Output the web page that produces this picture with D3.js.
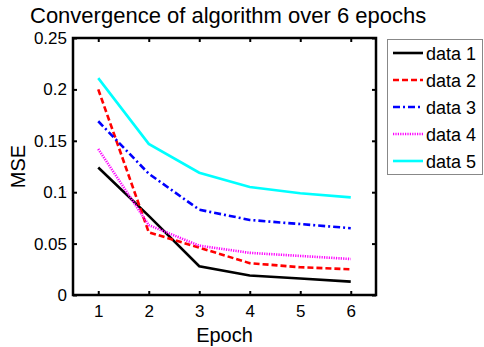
<!DOCTYPE html>
<html><head><meta charset="utf-8">
<script src="https://cdn.jsdelivr.net/npm/d3@7/dist/d3.min.js"></script>
<style>body{margin:0;background:#fff}svg{display:block;font-family:"Liberation Sans",Arial,sans-serif}</style>
</head><body><svg id="c" width="484" height="347"></svg>
<script>
const epochs = [1,2,3,4,5,6];
const seriesNames = ["data 1","data 2","data 3","data 4","data 5"];
const data1 = [0.124,0.077,0.028,0.019,0.016,0.013];
const data2 = [0.200,0.061,0.046,0.031,0.027,0.025];
const data3 = [0.169,0.118,0.083,0.073,0.069,0.065];
const data4 = [0.142,0.068,0.048,0.041,0.038,0.035];
const data5 = [0.211,0.147,0.119,0.105,0.099,0.095];
const yTicks = [0,0.05,0.1,0.15,0.2,0.25];
const yTickLabels = ["0","0.05","0.1","0.15","0.2","0.25"];
const colors = ["#000000","#ff0000","#0000ff","#ff00ff","#00ffff"];
const dashes = [null,"6,3","7,3,2,3","1.2,1.2",null];

const svg = d3.select("#c");
const L=73,R=376,T=38,B=295;
const x = d3.scaleLinear().domain([0.5,6.5]).range([L,R]);
const y = d3.scaleLinear().domain([0,0.25]).range([B,T]);
const all=[data1,data2,data3,data4,data5];

svg.append("text").attr("x",30).attr("y",23).attr("font-size",22).text("Convergence of algorithm over 6 epochs");

const line=d3.line().x((d,i)=>x(epochs[i])).y(d=>y(d));
const g=svg.append("g");
all.forEach((s,k)=>{
  g.append("path").attr("d",line(s)).attr("fill","none").attr("stroke",colors[k]).attr("stroke-width",2.6)
   .attr("stroke-dasharray",dashes[k]);
});

// axes
const ax=svg.append("g");
ax.append("g").attr("transform",`translate(0,${B})`).call(d3.axisBottom(x).tickValues(epochs).tickSize(-4).tickPadding(10).tickFormat(d3.format("d")));
ax.append("g").attr("transform",`translate(0,${T})`).call(d3.axisTop(x).tickValues(epochs).tickSize(-4).tickFormat(""));
ax.append("g").attr("transform",`translate(${L},0)`).call(d3.axisLeft(y).tickValues(yTicks).tickSize(-4).tickPadding(6).tickFormat((d,i)=>yTickLabels[i]));
ax.append("g").attr("transform",`translate(${R},0)`).call(d3.axisRight(y).tickValues(yTicks).tickSize(-4).tickFormat(""));
ax.selectAll(".domain").remove();
ax.selectAll(".tick line").attr("stroke","#000").attr("stroke-width",2);
ax.selectAll(".tick text").attr("font-size",17).attr("fill","#000").attr("font-family","Liberation Sans, Arial, sans-serif");
svg.append("rect").attr("x",L).attr("y",T).attr("width",R-L).attr("height",B-T).attr("fill","none").attr("stroke","#000").attr("stroke-width",2.5);

svg.append("text").attr("x",(L+R)/2).attr("y",342).attr("text-anchor","middle").attr("font-size",20).text("Epoch");
svg.append("text").attr("transform",`translate(25,${(T+B)/2}) rotate(-90)`).attr("text-anchor","middle").attr("font-size",20).text("MSE");

// legend
const lg=svg.append("g");
lg.append("rect").attr("x",387.5).attr("y",39.5).attr("width",95).attr("height",135).attr("fill","#fff").attr("stroke","#888").attr("stroke-width",1);
seriesNames.forEach((n,k)=>{
  const yy=53+k*27;
  lg.append("line").attr("x1",393).attr("x2",423).attr("y1",yy).attr("y2",yy).attr("stroke",colors[k]).attr("stroke-width",2.6).attr("stroke-dasharray",dashes[k]);
  lg.append("text").attr("x",426).attr("y",yy+7).attr("font-size",18).text(n);
});
</script></body></html>
